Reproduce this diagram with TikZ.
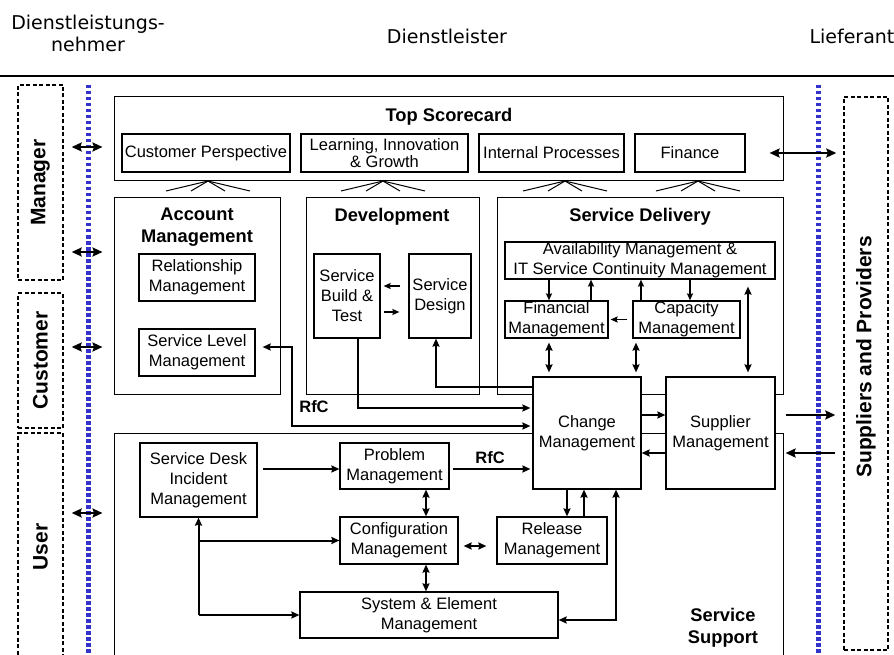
\documentclass[tikz,border=0pt]{standalone}
\usepackage{fontspec}
\setmainfont{Liberation Sans}
\newfontfamily\headfont{DejaVu Sans}
\usetikzlibrary{arrows.meta}
\definecolor{dotblue}{RGB}{51,51,204}

\begin{document}
\begin{tikzpicture}[x=1pt,y=1pt,
box/.style={draw,fill=white,line width=1.2pt,inner sep=0pt,align=center,font=\fontsize{16.5}{20}\selectfont},
area/.style={draw,line width=1pt,inner sep=0pt},
ttl/.style={align=center,font=\fontsize{18.3}{22}\selectfont\bfseries},
side/.style={draw,dash pattern=on 4pt off 2.5pt,line width=1.4pt,inner sep=0pt},
vlab/.style={rotate=90,font=\fontsize{21}{24}\selectfont\bfseries},
head/.style={align=center,font=\headfont\fontsize{19}{22}\selectfont},
rfc/.style={font=\fontsize{16.5}{20}\selectfont\bfseries},
bound/.style={draw=dotblue,line width=5pt,dash pattern=on 3.5pt off 2.5pt},
arr/.style={-{Stealth[length=8pt,width=7pt,inset=1pt]},line width=2pt},
dbl/.style={{Stealth[length=8pt,width=7pt,inset=1pt]}-{Stealth[length=8pt,width=7pt,inset=1pt]},line width=2pt},
sarr/.style={-{Stealth[length=7pt,width=6pt,inset=1pt]},line width=1.5pt},
rim/.style={{Stealth[length=10pt,width=9pt,inset=1.5pt]}-{Stealth[length=10pt,width=9pt,inset=1.5pt]},line width=2pt},
rimarr/.style={-{Stealth[length=10pt,width=9pt,inset=1.5pt]},line width=2pt}]
\useasboundingbox (0,0) rectangle (894,-655);
\node[head] (nehmer) at (88,-33) {Dienstleistungs-\\nehmer};
\node[head] (leister) at (447,-36) {Dienstleister};
\node[head] (lieferant) at (852,-36) {Lieferant};
\draw[line width=1.5pt] (0,-76) -- (894,-76);
\draw[bound] (88,-85) -- (88,-655);
\draw[bound] (818,-85) -- (818,-655);
\node[side,minimum width=45,minimum height=195] (manager) at (40.5,-182.5) {};
\node[side,minimum width=45,minimum height=135] (customer) at (40.5,-360.5) {};
\node[side,minimum width=45,minimum height=232] (user) at (40.5,-549) {};
\node[side,minimum width=44,minimum height=553] (prov) at (866,-373.5) {};
\node[vlab] (managerlbl) at (manager) {Manager};
\node[vlab] (customerlbl) at (customer) {Customer};
\node[vlab] (userlbl) at (40.5,-547) {User};
\node[vlab] (provlbl) at (866,-357) {Suppliers and Providers};
\node[area,minimum width=669,minimum height=84] (score) at (448.5,-139) {};
\node[ttl] (scorettl) at (449,-117) {Top Scorecard};
\node[box,minimum width=168,minimum height=38] (custp) at (206,-153) {Customer Perspective};
\node[box,minimum width=167,minimum height=38,font=\fontsize{16.5}{17}\selectfont] (learn) at (384.5,-153) {Learning, Innovation\\\& Growth};
\node[box,minimum width=145,minimum height=38] (intproc) at (551.5,-153) {Internal Processes};
\node[box,minimum width=110,minimum height=38] (finance) at (690,-153) {Finance};
\foreach \fx in {208,383,565,698}
  \foreach \dx in {-42,-17,17,42}
    \draw[line width=1pt] (\fx,-181) -- ++(\dx,-10);
\node[area,minimum width=166,minimum height=196] (acct) at (197,-296) {};
\node[ttl] (accttl) at (197,-227) {Account\\Management};
\node[box,minimum width=116,minimum height=47] (relship) at (197,-277.5) {Relationship\\Management};
\node[box,minimum width=116,minimum height=47] (slm) at (197,-352.5) {Service Level\\Management};
\node[area,minimum width=173,minimum height=196] (dev) at (392.5,-296) {};
\node[ttl] (devttl) at (392,-217) {Development};
\node[box,minimum width=66,minimum height=84] (sbt) at (347,-296) {Service\\Build \&\\Test};
\node[box,minimum width=62,minimum height=84] (sdes) at (440,-296) {Service\\Design};
\node[area,minimum width=286,minimum height=196] (sdel) at (640,-296) {};
\node[ttl] (sdelttl) at (640,-217) {Service Delivery};
\node[box,minimum width=270,minimum height=37] (avail) at (640,-260.5) {Availability Management \&\\IT Service Continuity Management};
\node[box,minimum width=103,minimum height=37] (fin) at (556.5,-319.5) {Financial\\Management};
\node[box,minimum width=107,minimum height=37] (cap) at (686.5,-319.5) {Capacity\\Management};
\node[area,minimum width=669,minimum height=237] (ssup) at (448.5,-551.5) {};
\node[ttl] (ssupttl) at (723,-628) {Service\\Support};
\node[box,minimum width=117,minimum height=74] (desk) at (198.5,-480) {Service Desk\\Incident\\Management};
\node[box,minimum width=109,minimum height=46] (prob) at (394.5,-466) {Problem\\Management};
\node[box,minimum width=118,minimum height=47] (conf) at (399,-540.5) {Configuration\\Management};
\node[box,minimum width=258,minimum height=46] (sys) at (429,-615) {System \& Element\\Management};
\node[box,minimum width=110,minimum height=47] (release) at (552,-540.5) {Release\\Management};
\node[box,minimum width=108,minimum height=112] (chg) at (587,-433) {Change\\Management};
\node[box,minimum width=109,minimum height=112] (supl) at (720.5,-433) {Supplier\\Management};
\draw[rim,shorten <=8,shorten >=11] ([yshift=35.5]manager.east) -- ([yshift=-8]score.west);
\draw[rim,shorten <=8,shorten >=11] ([yshift=-69.5]manager.east) -- ([yshift=44]acct.west);
\draw[rim,shorten <=8,shorten >=11] ([yshift=13.5]customer.east) -- ([yshift=-51]acct.west);
\draw[rim,shorten <=8,shorten >=11] ([yshift=36]user.east) -- ([yshift=38.5]ssup.west);
\draw[rim,shorten <=24,shorten >=7] (finance.east) -- ([yshift=220.5]prov.west);
\draw[rimarr,shorten <=10,shorten >=8] ([yshift=18]supl.east) -- ([yshift=-41.5]prov.west);
\draw[rimarr,shorten <=8,shorten >=10] ([yshift=-79.5]prov.west) -- ([yshift=-20]supl.east);
\draw[sarr,shorten <=8,shorten >=3] ([yshift=10]sdes.west) -- ([yshift=10]sbt.east);
\draw[sarr,shorten <=3,shorten >=9] ([yshift=-16]sbt.east) -- ([yshift=-16]sdes.west);
\draw[sarr] ([xshift=-91]avail.south) -- ([xshift=-7.5]fin.north);
\draw[sarr] ([xshift=34.5]fin.north) -- ([xshift=-49]avail.south);
\draw[sarr] ([xshift=-45.5]cap.north) -- ([xshift=1]avail.south);
\draw[sarr] ([xshift=50]avail.south) -- ([xshift=3.5]cap.north);
\draw[sarr,shorten <=5,shorten >=2] (cap.west) -- (fin.east);
\draw[dbl,shorten <=4,shorten >=4] ([xshift=-7.5]fin.south) -- ([xshift=-38]chg.north);
\draw[dbl,shorten <=4,shorten >=4] ([xshift=-50.5]cap.south) -- ([xshift=49]chg.north);
\draw[dbl,shorten <=7,shorten >=4] ([xshift=108]avail.south) -- ([xshift=27.5]supl.north);
\draw[arr] ([yshift=18]chg.east) -- ([yshift=18]supl.west);
\draw[arr] ([yshift=-20]supl.west) -- ([yshift=-20]chg.east);
\draw[arr] ([yshift=46]chg.west) -| ([xshift=-4]sdes.south);
\draw[arr,shorten >=2] ([xshift=11]sbt.south) |- ([yshift=25]chg.west);
\coordinate (slmbend) at (292,-347);
\draw[dbl,shorten <=2,shorten >=7] ([yshift=7]chg.west) -| (slmbend) -- ([yshift=5.5]slm.east);
\node[rfc] (rfcdev) at (314,-407) {RfC};
\draw[arr,shorten <=5] ([yshift=11]desk.east) -- ([yshift=-3]prob.west);
\draw[arr,shorten <=3,shorten >=2] ([yshift=-3]prob.east) -- ([yshift=-36]chg.west);
\node[rfc] (rfcprob) at (490,-458) {RfC};
\draw[dbl] ([xshift=31.5]prob.south) -- ([xshift=27]conf.north);
\draw[dbl] ([xshift=27]conf.south) -- ([xshift=-3]sys.north);
\draw[dbl,shorten <=5,shorten >=10] ([yshift=-5.5]conf.east) -- ([yshift=-5.5]release.west);
\coordinate (deskjn) at (198.5,-615);
\draw[arr] (deskjn) -- (desk.south);
\draw[arr] (deskjn |- conf.west) -- (conf.west);
\draw[arr] (deskjn) -- (sys.west);
\draw[arr] ([xshift=-20]chg.south) -- ([xshift=15]release.north);
\draw[arr] ([xshift=32]release.north) -- ([xshift=-3]chg.south);
\draw[dbl] ([yshift=-5]sys.east) -| ([xshift=29]chg.south);
\end{tikzpicture}
\end{document}
